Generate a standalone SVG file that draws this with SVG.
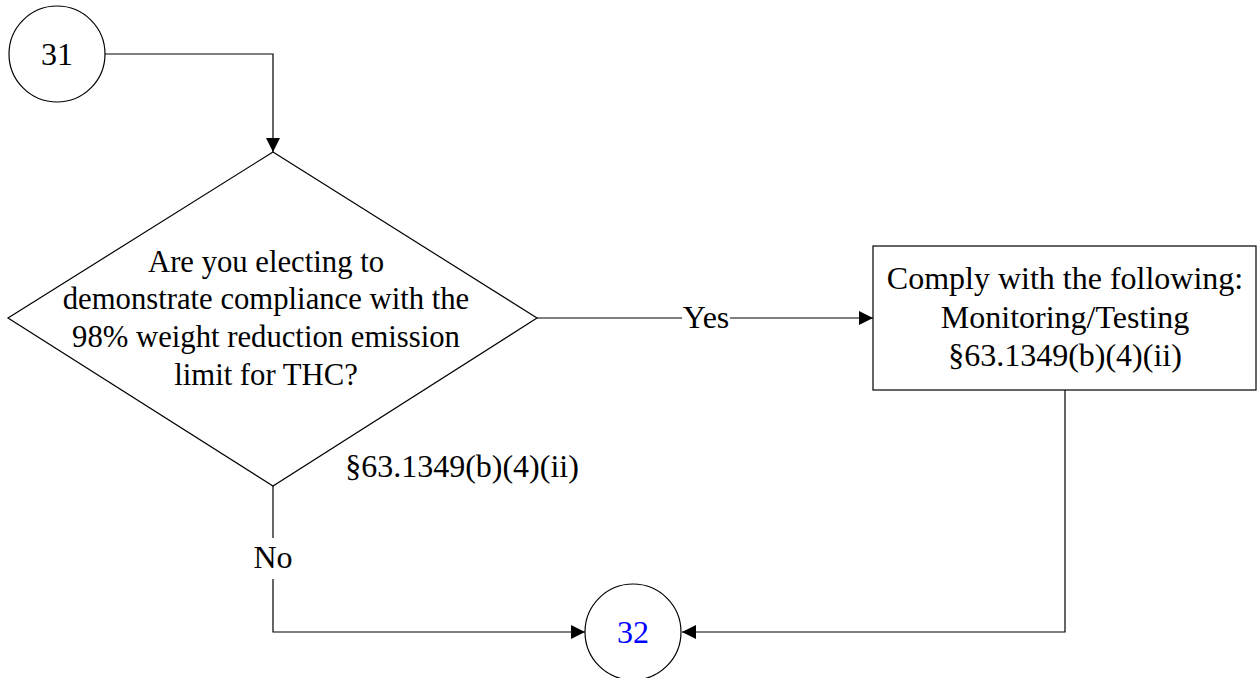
<svg xmlns="http://www.w3.org/2000/svg" width="1257" height="678" viewBox="0 0 1257 678">
<style>
.shape{fill:#fff;stroke:#000;stroke-width:1.2}
.conn{fill:none;stroke:#000;stroke-width:1.2}
.t{font-family:"Liberation Serif","Times New Roman",serif;font-size:32px;fill:#000;text-anchor:middle}
.d{font-size:30.7px}
.lbl{font-family:"Liberation Serif","Times New Roman",serif;font-size:32px;fill:#000;text-anchor:middle}
</style>
<defs>
<marker id="arr" markerUnits="userSpaceOnUse" markerWidth="15" markerHeight="15" refX="14" refY="7" orient="auto">
<path d="M0,0 L14,7 L0,14 z" fill="#000"/>
</marker>
</defs>
<rect width="1257" height="678" fill="#fff"/>
<g id="connectors">
<path class="conn" d="M105,54 H273 V152" marker-end="url(#arr)"/>
<path class="conn" d="M537,318 H682"/>
<path class="conn" d="M730,318 H873" marker-end="url(#arr)"/>
<path class="conn" d="M273,486 V538"/>
<path class="conn" d="M273,579 V632 H585" marker-end="url(#arr)"/>
<path class="conn" d="M1065,390 V632 H682" marker-end="url(#arr)"/>
<text class="lbl" x="706" y="328">Yes</text>
<text class="lbl" x="273" y="568">No</text>
<text class="lbl" x="462" y="477">§63.1349(b)(4)(ii)</text>
</g>
<g id="node31">
<circle class="shape" cx="57" cy="54" r="48"/>
<text class="t" x="57" y="65">31</text>
</g>
<g id="decision">
<polygon class="shape" points="273,152 537,318 273,486 8,318"/>
<text class="t d" x="266" y="272">Are you electing to</text>
<text class="t d" x="266" y="309">demonstrate compliance with the</text>
<text class="t d" x="266" y="347">98% weight reduction emission</text>
<text class="t d" x="266" y="385">limit for THC?</text>
</g>
<g id="comply">
<rect class="shape" x="873" y="246" width="383" height="144"/>
<text class="t" x="1065" y="289">Comply with the following:</text>
<text class="t" x="1065" y="328">Monitoring/Testing</text>
<text class="t" x="1065" y="366">§63.1349(b)(4)(ii)</text>
</g>
<g id="node32">
<circle class="shape" cx="633" cy="632" r="48"/>
<text class="t" x="633" y="643" style="fill:#0000ff">32</text>
</g>
</svg>
